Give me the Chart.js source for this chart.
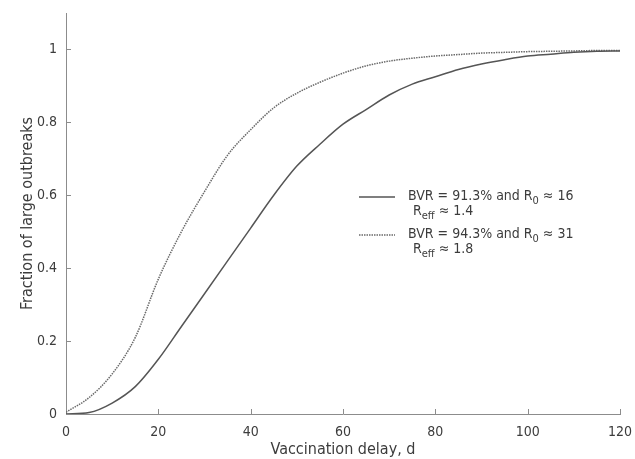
<!doctype html>
<html>
<head>
	<title>Fraction of large outbreaks</title>
	<script src="https://cdn.jsdelivr.net/npm/chart.js@4/dist/chart.umd.min.js"></script>
	<style>
		body { margin: 0; background: #fff; }
		#holder { width: 635px; height: 459px; }
	</style>
</head>
<body>
	<div id="holder">
		<canvas id="chart-area"></canvas>
	</div>

	<script>
		// vaccination delay (days)
		const delays = [0, 5, 10, 15, 20, 25, 30, 35, 40, 45, 50, 55, 60, 65, 70, 75, 80, 85, 90, 95, 100, 105, 110, 115, 120];
		// BVR = 91.3%, R0 ~ 16
		const bvr913 = [0, 0.004, 0.03, 0.075, 0.15, 0.24, 0.33, 0.42, 0.51, 0.60, 0.68, 0.74, 0.795, 0.835, 0.875, 0.905, 0.925, 0.945, 0.96, 0.972, 0.982, 0.987, 0.992, 0.995, 0.996];
		// BVR = 94.3%, R0 ~ 31
		const bvr943 = [0.005, 0.045, 0.11, 0.21, 0.37, 0.50, 0.61, 0.71, 0.78, 0.84, 0.88, 0.91, 0.935, 0.955, 0.968, 0.976, 0.982, 0.986, 0.99, 0.992, 0.994, 0.995, 0.996, 0.997, 0.997];
		const xTicks = [0, 20, 40, 60, 80, 100, 120];
		const yTicks = [0, 0.2, 0.4, 0.6, 0.8, 1];

		const FONT = "'Liberation Sans Narrow', 'DejaVu Sans Condensed', sans-serif";
		const TEXT = '#3c3c3c';
		const AXIS = '#8c8c8c';

		function pts(ys) {
			return delays.map((d, i) => ({ x: d, y: ys[i] }));
		}

		// small tick marks pointing into the plot
		const innerTicks = {
			id: 'innerTicks',
			afterDraw(chart) {
				const { ctx, chartArea: a, scales } = chart;
				ctx.save();
				ctx.strokeStyle = AXIS;
				ctx.lineWidth = 1;
				ctx.beginPath();
				xTicks.forEach(v => {
					if (v === 0) return;
					const px = Math.round(scales.x.getPixelForValue(v)) + 0.5;
					ctx.moveTo(px, a.bottom);
					ctx.lineTo(px, a.bottom - 5);
				});
				yTicks.forEach(v => {
					if (v === 0) return;
					const py = Math.round(scales.y.getPixelForValue(v)) + 0.5;
					ctx.moveTo(a.left, py);
					ctx.lineTo(a.left + 5, py);
				});
				ctx.stroke();
				ctx.restore();
			}
		};

		function richText(ctx, x, y, parts) {
			parts.forEach(p => {
				ctx.font = p.sub ? '11px ' + FONT : '14px ' + FONT;
				ctx.fillText(p.t, x, p.sub ? y + 5 : y);
				x += ctx.measureText(p.t).width;
			});
		}

		const legendBox = {
			id: 'legendBox',
			afterDraw(chart) {
				const ctx = chart.ctx;
				ctx.save();
				ctx.lineWidth = 1.5;
				ctx.strokeStyle = '#555';
				ctx.beginPath();
				ctx.moveTo(359, 197);
				ctx.lineTo(395, 197);
				ctx.stroke();
				ctx.strokeStyle = '#6a6a6a';
				ctx.setLineDash([1.5, 1]);
				ctx.beginPath();
				ctx.moveTo(359, 235);
				ctx.lineTo(395, 235);
				ctx.stroke();
				ctx.setLineDash([]);
				ctx.fillStyle = TEXT;
				ctx.textBaseline = 'middle';
				richText(ctx, 408, 196, [{ t: 'BVR = 91.3% and R' }, { t: '0', sub: true }, { t: ' \u2248 16' }]);
				richText(ctx, 413, 211, [{ t: 'R' }, { t: 'eff', sub: true }, { t: ' \u2248 1.4' }]);
				richText(ctx, 408, 234, [{ t: 'BVR = 94.3% and R' }, { t: '0', sub: true }, { t: ' \u2248 31' }]);
				richText(ctx, 413, 249, [{ t: 'R' }, { t: 'eff', sub: true }, { t: ' \u2248 1.8' }]);
				ctx.restore();
			}
		};

		const ctx2d = document.getElementById('chart-area').getContext('2d');
		window.outbreakChart = new Chart(ctx2d, {
			type: 'line',
			data: {
				datasets: [{
					label: 'BVR = 91.3% and R0 ≈ 16',
					data: pts(bvr913),
					borderColor: '#555',
					borderWidth: 1.5,
					pointRadius: 0,
					cubicInterpolationMode: 'monotone'
				}, {
					label: 'BVR = 94.3% and R0 ≈ 31',
					data: pts(bvr943),
					borderColor: '#6a6a6a',
					borderWidth: 1.5,
					borderDash: [1.5, 1],
					pointRadius: 0,
					cubicInterpolationMode: 'monotone'
				}]
			},
			options: {
				responsive: true,
				maintainAspectRatio: false,
				animation: false,
				layout: { padding: { top: 13, right: 15, left: 0, bottom: 0 } },
				plugins: {
					legend: { display: false },
					tooltip: { enabled: false }
				},
				scales: {
					x: {
						type: 'linear',
						min: 0,
						max: 120,
						afterBuildTicks(scale) { scale.ticks = xTicks.map(v => ({ value: v })); },
						afterFit(scale) {
							scale.height = 45;
							scale.paddingLeft = 0;
							scale.paddingRight = 0;
						},
						grid: { drawOnChartArea: false, drawTicks: false },
						border: { color: AXIS, width: 1 },
						ticks: { color: TEXT, padding: 10, maxRotation: 0, font: { family: FONT, size: 14 } },
						title: { display: true, text: 'Vaccination delay, d', color: TEXT, padding: 0, font: { family: FONT, size: 16 } }
					},
					y: {
						min: 0,
						max: 1.1,
						afterBuildTicks(scale) { scale.ticks = yTicks.map(v => ({ value: v })); },
						afterFit(scale) {
							scale.width = 66;
							scale.paddingTop = 0;
							scale.paddingBottom = 0;
						},
						grid: { drawOnChartArea: false, drawTicks: false },
						border: { color: AXIS, width: 1 },
						ticks: { color: TEXT, padding: 9, font: { family: FONT, size: 14 }, callback: v => String(v) },
						title: { display: true, text: 'Fraction of large outbreaks', color: TEXT, padding: { top: 18, bottom: 0 }, font: { family: FONT, size: 16 } }
					}
				}
			},
			plugins: [innerTicks, legendBox]
		});
	</script>
</body>
</html>
